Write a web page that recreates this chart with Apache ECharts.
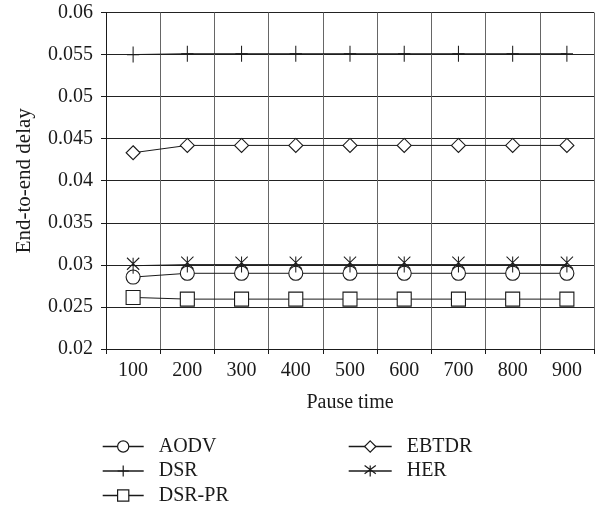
<!DOCTYPE html>
<html>
<head>
<meta charset="utf-8">
<script src="https://cdn.jsdelivr.net/npm/echarts@6/dist/echarts.min.js"></script>
<style>
html,body{margin:0;padding:0;background:#fff;}
#chart{width:595px;height:505px;}
</style>
</head>
<body>
<div id="chart"></div>
<script>
const categories = ['100','200','300','400','500','600','700','800','900'];
const aodv  = [0.02855,0.0290,0.0290,0.0290,0.0290,0.0290,0.0290,0.0290,0.0290];
const dsr   = [0.0550,0.0551,0.0551,0.0551,0.0551,0.0551,0.0551,0.0551,0.0551];
const dsrpr = [0.02613,0.02593,0.02593,0.02593,0.02593,0.02593,0.02593,0.02593,0.02593];
const ebtdr = [0.04333,0.0442,0.0442,0.0442,0.0442,0.0442,0.0442,0.0442,0.0442];
const her   = [0.0299,0.03003,0.03003,0.03003,0.03003,0.03003,0.03003,0.03003,0.03003];
const yTicks = ['0.02','0.025','0.03','0.035','0.04','0.045','0.05','0.055','0.06'];

const FONT = '"Liberation Serif", "DejaVu Serif", serif';
const INK = '#1a1a1a';

function mk(name, data, symbol, size) {
  return {
    name: name, type: 'line', data: data,
    symbol: symbol, symbolSize: size, symbolKeepAspect: true,
    showAllSymbol: true,
    lineStyle: {color: INK, width: 1},
    itemStyle: {color: '#fff', borderColor: INK, borderWidth: 1.1},
    emphasis: {disabled: true},
    animation: false
  };
}

function legendBox(names, left, iw) {
  return {
    data: names, orient: 'vertical', left: left, top: 431.5, height: 100,
    itemWidth: iw, itemHeight: 14, itemGap: 4.5,
    lineStyle: {width: 1.4, color: INK},
    itemStyle: {color: '#fff', borderColor: INK, borderWidth: 1.2},
    textStyle: {fontFamily: FONT, fontSize: 20, lineHeight: 20, color: INK, padding: [0,0,0,10]},
    selectedMode: false
  };
}

const chart = echarts.init(document.getElementById('chart'), null, {renderer: 'canvas'});
chart.setOption({
  backgroundColor: '#fff',
  animation: false,
  grid: {left: 106, right: 1, top: 12.5, bottom: 156, containLabel: false},
  xAxis: {
    type: 'category', data: categories, boundaryGap: true,
    name: 'Pause time', nameLocation: 'middle', nameGap: 44,
    nameTextStyle: {fontFamily: FONT, fontSize: 20, color: INK},
    axisLine: {lineStyle: {color: INK, width: 1}},
    axisTick: {show: true, length: 5, inside: false, lineStyle: {color: INK}},
    axisLabel: {fontFamily: FONT, fontSize: 20, color: INK, margin: 12},
    splitLine: {show: true, lineStyle: {color: '#666', width: 1}}
  },
  yAxis: {
    type: 'value', min: 0.02, max: 0.06, interval: 0.005,
    name: 'End-to-end delay', nameLocation: 'middle', nameRotate: 90, nameGap: 71,
    nameTextStyle: {fontFamily: FONT, fontSize: 21, color: INK},
    axisLine: {show: true, lineStyle: {color: INK, width: 1}},
    axisTick: {show: true, length: 5, lineStyle: {color: INK}},
    axisLabel: {fontFamily: FONT, fontSize: 20, color: INK, margin: 13,
      formatter: function (v) { return yTicks[Math.round((v - 0.02) / 0.005)]; }},
    splitLine: {show: true, lineStyle: {color: '#222', width: 1}}
  },
  legend: [
    legendBox(['AODV','DSR','DSR-PR'], 97, 41),
    legendBox(['EBTDR','HER'], 343, 43)
  ],
  series: [
    mk('AODV', aodv, 'circle', 14),
    mk('DSR', dsr, 'path://M0,8 L14,8 M7,0 L7,16', [14,16]),
    mk('DSR-PR', dsrpr, 'rect', 14),
    mk('EBTDR', ebtdr, 'diamond', [14,14]),
    mk('HER', her, 'path://M0,0 L14,12 M14,0 L0,12 M7,0 L7,16', [14,16])
  ]
});
</script>
</body>
</html>
